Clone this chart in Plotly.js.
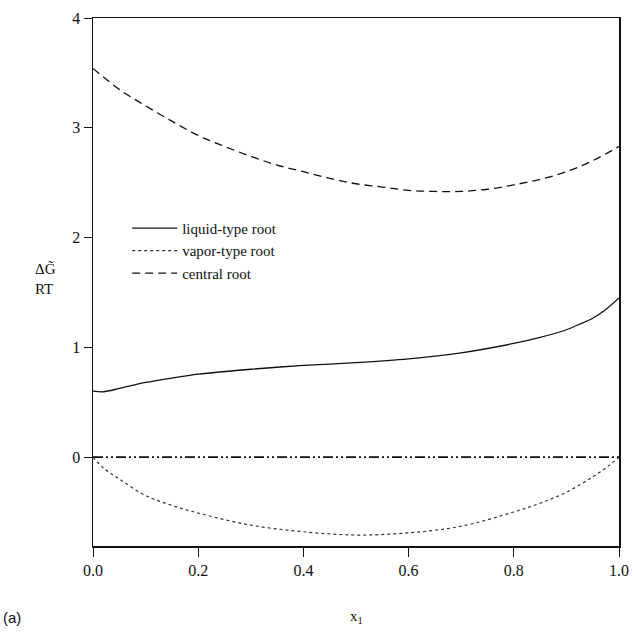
<!DOCTYPE html>
<html><head><meta charset="utf-8">
<script src="https://cdn.plot.ly/plotly-3.0.1.min.js"></script>
<style>body{margin:0;background:#fff}#c{width:634px;height:635px}</style>
</head><body><div id="c"></div>
<script>
const xCentral = [0,0.05,0.1,0.15,0.2,0.25,0.3,0.35,0.4,0.45,0.5,0.55,0.6,0.65,0.7,0.75,0.8,0.85,0.9,0.95,1.0];
const yCentral = [3.54,3.35,3.2,3.06,2.93,2.83,2.74,2.66,2.6,2.54,2.49,2.46,2.43,2.42,2.42,2.44,2.48,2.53,2.6,2.7,2.83];
const xLiquid = [0,0.02,0.05,0.1,0.15,0.2,0.3,0.4,0.5,0.6,0.7,0.8,0.85,0.9,0.925,0.95,0.975,1.0];
const yLiquid = [0.6,0.595,0.625,0.68,0.72,0.755,0.8,0.835,0.86,0.895,0.95,1.035,1.09,1.16,1.21,1.265,1.345,1.45];
const xVapor = [0,0.02,0.05,0.1,0.15,0.2,0.3,0.4,0.5,0.6,0.7,0.8,0.85,0.9,0.95,0.98,1.0];
const yVapor = [0,-0.1,-0.2,-0.35,-0.44,-0.51,-0.62,-0.68,-0.71,-0.69,-0.63,-0.5,-0.42,-0.32,-0.18,-0.08,0];
const xZero = [0,1];
const yZero = [0,0];
const xTicks = [0,0.2,0.4,0.6,0.8,1.0];
const yTicks = [0,1,2,3,4];

const fam = 'Liberation Serif, Times New Roman, serif';
const traces = [
  {x:xLiquid,y:yLiquid,mode:'lines',name:'liquid-type root',line:{color:'#111',width:1.3,shape:'spline',smoothing:0.8}},
  {x:xVapor,y:yVapor,mode:'lines',name:'vapor-type root',line:{color:'#333',width:1.2,dash:'dot',shape:'spline'}},
  {x:xCentral,y:yCentral,mode:'lines',name:'central root',line:{color:'#111',width:1.3,dash:'8px,5px',shape:'spline'}},
  {x:xZero,y:yZero,mode:'lines',showlegend:false,line:{color:'#111',width:1.6,dash:'10px,3px,2px,3px,2px,3px'}}
];
const layout = {
  width:634,height:635,
  margin:{l:93,r:15,t:18,b:89},
  paper_bgcolor:'#fff',plot_bgcolor:'#fff',
  font:{family:fam,size:16,color:'#111'},
  showlegend:true,
  legend:{x:0.065,y:0.633,xanchor:'left',yanchor:'top',bgcolor:'rgba(0,0,0,0)',font:{family:fam,size:15,color:'#111'},itemwidth:45,tracegroupgap:0},
  xaxis:{range:[0,1],tickvals:xTicks,ticktext:xTicks.map(v=>v.toFixed(1)),showgrid:false,zeroline:false,
    showline:true,mirror:true,linecolor:'#111',linewidth:1.5,ticks:'outside',ticklen:9,tickcolor:'#111',
    tickfont:{family:fam,size:16,color:'#111'}},
  yaxis:{range:[-0.81,4],tickvals:yTicks,ticktext:yTicks.map(String),showgrid:false,zeroline:false,
    showline:true,mirror:true,linecolor:'#111',linewidth:1.5,ticks:'outside',ticklen:8,tickcolor:'#111',
    tickfont:{family:fam,size:16,color:'#111'}},
  annotations:[
    {xref:'paper',yref:'paper',x:-0.114,y:0.505,text:'ΔG\u0303<br>RT',showarrow:false,align:'left',font:{family:fam,size:15,color:'#111'}},
    {xref:'paper',yref:'paper',x:0.5,y:-0.155,text:'x<sub>1</sub>',showarrow:false,font:{family:fam,size:15,color:'#111'}},
    {xref:'paper',yref:'paper',x:-0.175,y:-0.155,xanchor:'left',text:'(a)',showarrow:false,font:{family:'Liberation Sans, Arial, sans-serif',size:15,color:'#111'}}
  ]
};
Plotly.newPlot('c',traces,layout,{displayModeBar:false,staticPlot:true});
</script></body></html>
